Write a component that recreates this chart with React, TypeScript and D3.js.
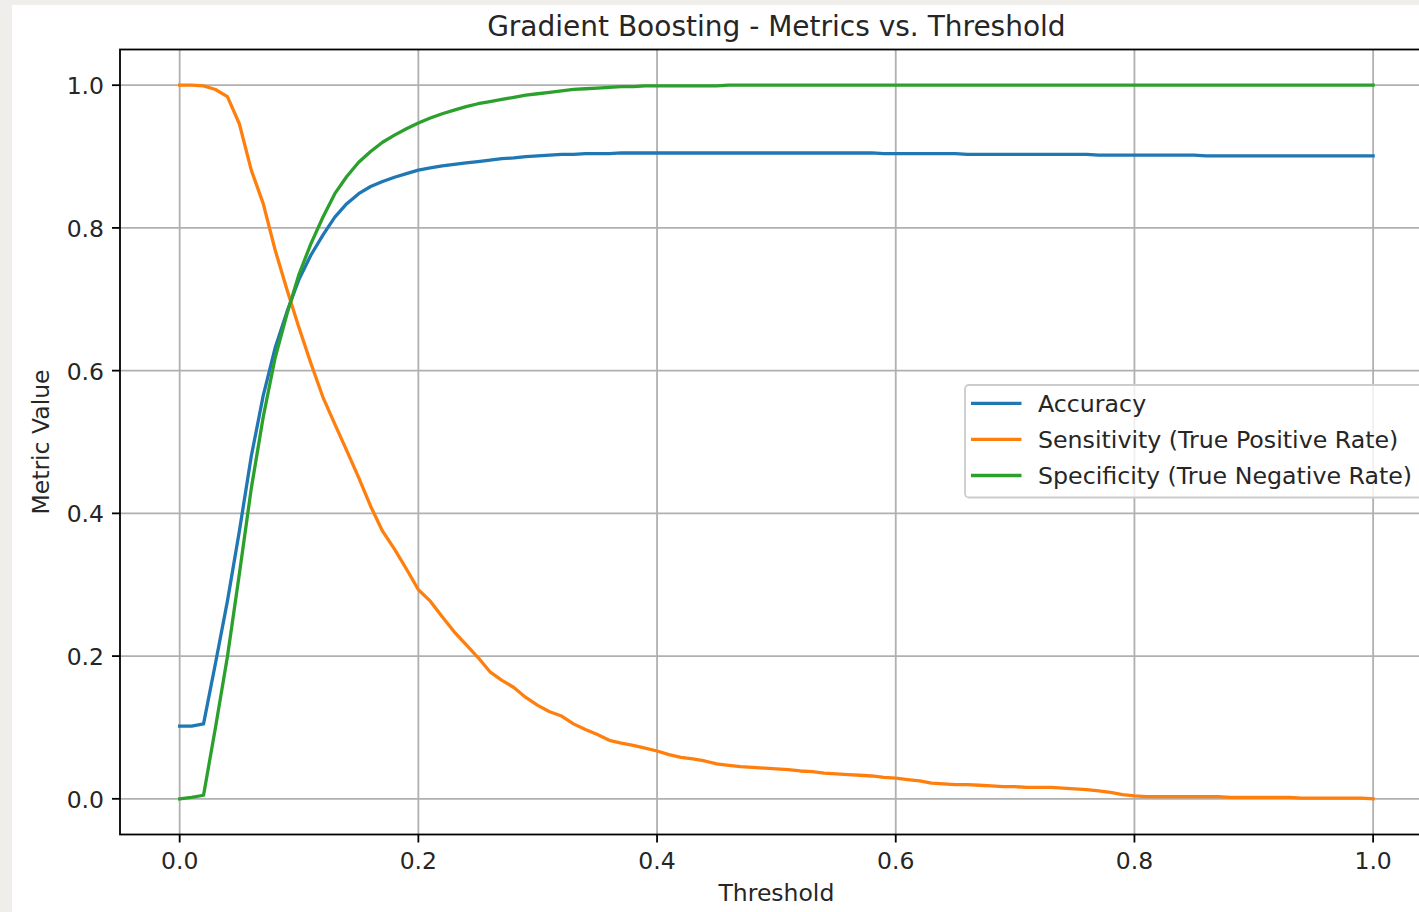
import React from "react";
import * as d3 from "d3";

const W = 1419;
const H = 912;

const thresholds: number[] = d3.range(101).map((i) => i / 100);

const accuracy: number[] = [
  0.102, 0.102, 0.105, 0.19, 0.277, 0.375, 0.48, 0.565, 0.632, 0.683,
  0.728, 0.762, 0.79, 0.815, 0.834, 0.848, 0.858, 0.865, 0.871, 0.876,
  0.881, 0.884, 0.887, 0.889, 0.891, 0.893, 0.895, 0.897, 0.898, 0.9,
  0.901, 0.902, 0.903, 0.903, 0.904, 0.904, 0.904, 0.905, 0.905, 0.905,
  0.905, 0.905, 0.905, 0.905, 0.905, 0.905, 0.905, 0.905, 0.905, 0.905,
  0.905, 0.905, 0.905, 0.905, 0.905, 0.905, 0.905, 0.905, 0.905, 0.904,
  0.904, 0.904, 0.904, 0.904, 0.904, 0.904, 0.903, 0.903, 0.903, 0.903,
  0.903, 0.903, 0.903, 0.903, 0.903, 0.903, 0.903, 0.902, 0.902, 0.902,
  0.902, 0.902, 0.902, 0.902, 0.902, 0.902, 0.901, 0.901, 0.901, 0.901,
  0.901, 0.901, 0.901, 0.901, 0.901, 0.901, 0.901, 0.901, 0.901, 0.901,
  0.901,
];

const sensitivity: number[] = [
  1.0, 1.0, 0.999, 0.994, 0.984, 0.946, 0.881, 0.834, 0.769, 0.713,
  0.66, 0.61, 0.563, 0.525, 0.488, 0.45, 0.41, 0.375, 0.35, 0.322,
  0.293, 0.277, 0.255, 0.234, 0.216, 0.198, 0.178, 0.166, 0.156, 0.142,
  0.131, 0.122, 0.116, 0.105, 0.097, 0.09, 0.082, 0.078, 0.075, 0.071,
  0.067, 0.062, 0.058, 0.056, 0.053, 0.049, 0.047, 0.045, 0.044, 0.043,
  0.042, 0.041, 0.039, 0.038, 0.036, 0.035, 0.034, 0.033, 0.032, 0.03,
  0.029, 0.027, 0.025, 0.022, 0.021, 0.02, 0.02, 0.019, 0.018, 0.017,
  0.017, 0.016, 0.016, 0.016, 0.015, 0.014, 0.013, 0.011, 0.009, 0.006,
  0.004, 0.003, 0.003, 0.003, 0.003, 0.003, 0.003, 0.003, 0.002, 0.002,
  0.002, 0.002, 0.002, 0.002, 0.001, 0.001, 0.001, 0.001, 0.001, 0.001,
  0.0,
];

const specificity: number[] = [
  0.0, 0.002, 0.005, 0.1, 0.199, 0.315, 0.435, 0.535, 0.618, 0.68,
  0.735, 0.778, 0.815, 0.848, 0.872, 0.892, 0.907, 0.92, 0.93, 0.939,
  0.947, 0.954, 0.96, 0.965, 0.97, 0.974, 0.977, 0.98, 0.983, 0.986,
  0.988, 0.99, 0.992, 0.994, 0.995, 0.996, 0.997, 0.998, 0.998, 0.999,
  0.999, 0.999, 0.999, 0.999, 0.999, 0.999, 1.0, 1.0, 1.0, 1.0,
  1.0, 1.0, 1.0, 1.0, 1.0, 1.0, 1.0, 1.0, 1.0, 1.0,
  1.0, 1.0, 1.0, 1.0, 1.0, 1.0, 1.0, 1.0, 1.0, 1.0,
  1.0, 1.0, 1.0, 1.0, 1.0, 1.0, 1.0, 1.0, 1.0, 1.0,
  1.0, 1.0, 1.0, 1.0, 1.0, 1.0, 1.0, 1.0, 1.0, 1.0,
  1.0, 1.0, 1.0, 1.0, 1.0, 1.0, 1.0, 1.0, 1.0, 1.0,
  1.0,
];

const seriesNames: string[] = [
  "Accuracy",
  "Sensitivity (True Positive Rate)",
  "Specificity (True Negative Rate)",
];
const seriesColors: string[] = ["#1f77b4", "#ff7f0e", "#2ca02c"];
const xTicks: number[] = [0, 0.2, 0.4, 0.6, 0.8, 1.0];
const yTicks: number[] = [0, 0.2, 0.4, 0.6, 0.8, 1.0];

const FONT = "'DejaVu Sans', sans-serif";
const TICK_FS = 23.5;
const LEG_FS = 23.7;
const TEXT = "#262626";

export default function App() {
  const left = 120;
  const right = 1432.8;
  const top = 49.5;
  const bottom = 834.5;

  const x = d3.scaleLinear().domain([-0.05, 1.05]).range([left, right]);
  const y = d3.scaleLinear().domain([-0.05, 1.05]).range([bottom, top]);

  const series = [accuracy, sensitivity, specificity];
  const line = d3
    .line<number>()
    .x((_, i) => x(thresholds[i]))
    .y((d) => y(d));

  const legX = 965;
  const legY = 385;
  const legW = 460;
  const legH = 112.5;
  const rowY = [403.3, 439.3, 475.5];

  return (
    <div style={{ position: "fixed", left: 0, top: 0, width: W, height: H }}>
      <svg width={W} height={H} style={{ display: "block" }}>
        <rect x={0} y={0} width={W} height={H} fill="#efeeea" />
        <rect x={12} y={5} width={W - 12} height={H - 5} fill="#ffffff" />
        <defs>
          <clipPath id="plotclip">
            <rect x={left} y={top} width={right - left} height={bottom - top} />
          </clipPath>
        </defs>
        {/* grid */}
        {xTicks.map((t) => (
          <line
            key={"gx" + t}
            x1={x(t)}
            x2={x(t)}
            y1={top}
            y2={bottom}
            stroke="#b0b0b0"
            strokeWidth={1.8}
          />
        ))}
        {yTicks.map((t) => (
          <line
            key={"gy" + t}
            x1={left}
            x2={right}
            y1={y(t)}
            y2={y(t)}
            stroke="#b0b0b0"
            strokeWidth={1.8}
          />
        ))}
        {/* lines */}
        <g clipPath="url(#plotclip)">
          {series.map((s, i) => (
            <path
              key={"s" + i}
              d={line(s) || ""}
              fill="none"
              stroke={seriesColors[i]}
              strokeWidth={3.3}
              strokeLinejoin="round"
              strokeLinecap="square"
            />
          ))}
        </g>
        {/* spines */}
        <rect
          x={left}
          y={top}
          width={right - left}
          height={bottom - top}
          fill="none"
          stroke="#000"
          strokeWidth={1.8}
        />
        {/* x ticks */}
        {xTicks.map((t) => (
          <g key={"xt" + t}>
            <line
              x1={x(t)}
              x2={x(t)}
              y1={bottom}
              y2={bottom + 8}
              stroke="#000"
              strokeWidth={1.8}
            />
            <text
              x={x(t)}
              y={869}
              textAnchor="middle"
              fontFamily={FONT}
              fontSize={TICK_FS}
              fill={TEXT}
            >
              {t.toFixed(1)}
            </text>
          </g>
        ))}
        {/* y ticks */}
        {yTicks.map((t) => (
          <g key={"yt" + t}>
            <line
              x1={left - 8}
              x2={left}
              y1={y(t)}
              y2={y(t)}
              stroke="#000"
              strokeWidth={1.8}
            />
            <text
              x={left - 16}
              y={y(t) + 9}
              textAnchor="end"
              fontFamily={FONT}
              fontSize={TICK_FS}
              fill={TEXT}
            >
              {t.toFixed(1)}
            </text>
          </g>
        ))}
        {/* axis labels */}
        <text
          x={(left + right) / 2}
          y={901}
          textAnchor="middle"
          fontFamily={FONT}
          fontSize={TICK_FS}
          fill={TEXT}
        >
          Threshold
        </text>
        <text
          transform={`translate(49, ${(top + bottom) / 2}) rotate(-90)`}
          textAnchor="middle"
          fontFamily={FONT}
          fontSize={TICK_FS}
          fill={TEXT}
        >
          Metric Value
        </text>
        {/* title */}
        <text
          x={(left + right) / 2}
          y={36}
          textAnchor="middle"
          fontFamily={FONT}
          fontSize={28}
          fill={TEXT}
        >
          Gradient Boosting - Metrics vs. Threshold
        </text>
        {/* legend */}
        <rect
          x={legX}
          y={legY}
          width={legW}
          height={legH}
          rx={4}
          ry={4}
          fill="#ffffff"
          fillOpacity={0.8}
          stroke="#cccccc"
          strokeWidth={1.8}
        />
        {seriesNames.map((name, i) => (
          <g key={"lg" + i}>
            <line
              x1={971}
              x2={1021.5}
              y1={rowY[i]}
              y2={rowY[i]}
              stroke={seriesColors[i]}
              strokeWidth={3.3}
            />
            <text
              x={1038}
              y={rowY[i] + 8.5}
              fontFamily={FONT}
              fontSize={LEG_FS}
              fill={TEXT}
            >
              {name}
            </text>
          </g>
        ))}
      </svg>
    </div>
  );
}
